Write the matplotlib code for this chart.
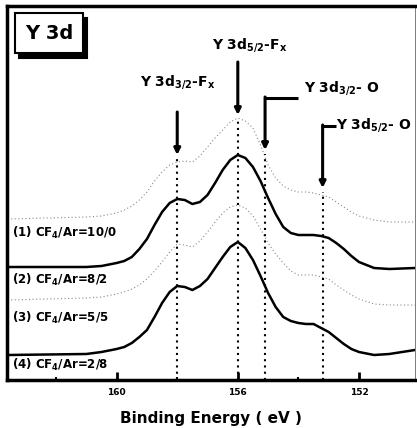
import numpy as np
import matplotlib
matplotlib.use("Agg")
import matplotlib.pyplot as plt
from matplotlib.patches import Rectangle

plt.rcParams['font.family'] = ['DejaVu Sans']
plt.rcParams['font.weight'] = 'bold'
plt.rcParams['mathtext.default'] = 'bf'

# binding energy (eV) sample points
energy = [163.6, 161.0, 160.5,
          160.0, 159.75, 159.5, 159.25, 159.0, 158.75, 158.5, 158.25, 158.0,
          157.75, 157.5, 157.25, 157.0, 156.75, 156.5, 156.25, 156.0,
          155.75, 155.5, 155.25, 155.0, 154.75, 154.5, 154.25, 154.0,
          153.75, 153.5, 153.25, 153.0, 152.75, 152.5, 152.25, 152.0,
          151.5, 151.0, 150.15]

# intensities (arb. units, already offset), top to bottom
cf4_10_0 = [161, 163, 164,
            167, 170, 174, 180, 188, 199, 208, 215, 218,
            219, 218, 224, 233, 242, 250, 258, 262,
            259, 252, 235, 215, 202, 194, 190, 188,
            188, 187, 185, 183, 178, 173, 168, 164,
            160, 158, 158]
cf4_8_2 = [113, 113, 114,
           117, 119, 123, 131, 141, 155, 168, 177, 181,
           180, 176, 178, 185, 197, 210, 220, 225,
           222, 213, 199, 182, 166, 153, 147, 145,
           145, 145, 144, 142, 137, 131, 124, 118,
           112, 111, 112]
cf4_5_5 = [80, 82, 83,
           86, 88, 91, 95, 101, 109, 118, 128, 136,
           135, 133, 139, 148, 158, 167, 173, 175,
           172, 164, 151, 137, 126, 117, 109, 105,
           105, 105, 103, 101, 95, 90, 85, 81,
           76, 75, 75]
cf4_2_8 = [25, 26, 28,
           31, 33, 37, 43, 50, 63, 77, 88, 94,
           93, 90, 94, 101, 112, 123, 133, 138,
           132, 120, 104, 87, 73, 63, 59, 57,
           56, 56, 52, 48, 42, 36, 31, 28,
           25, 26, 30]

labels = ['(1) CF$_4$/Ar=10/0', '(2) CF$_4$/Ar=8/2',
          '(3) CF$_4$/Ar=5/5', '(4) CF$_4$/Ar=2/8']
label_y = [147, 100, 62, 15]

# peak positions (eV) and tip heights of the arrows
peak_names = [r'Y 3d$_{3/2}$-F$_x$', r'Y 3d$_{5/2}$-F$_x$',
              r'Y 3d$_{3/2}$- O', r'Y 3d$_{5/2}$- O']
peak_e = [158.0, 156.0, 155.1, 153.2]
peak_tip = [225, 265, 230, 192]

fig = plt.figure(figsize=(4.17, 4.28), dpi=100)
ax = fig.add_axes([7/417, 48/428, 408/417, 374/428])

ax.plot(energy, cf4_10_0, color='#8a8a8a', lw=0.8, ls=(0, (1, 2.2)))
ax.plot(energy, cf4_8_2, color='black', lw=1.8)
ax.plot(energy, cf4_5_5, color='#8a8a8a', lw=0.8, ls=(0, (1, 2.2)))
ax.plot(energy, cf4_2_8, color='black', lw=1.8)

for e, t in zip(peak_e, peak_tip):
    ax.plot([e, e], [0, t - 4], color='black', lw=1.5, ls=(0, (1, 2)))

for lab, y in zip(labels, label_y):
    ax.text(163.45, y, lab, fontsize=8.5, fontweight='bold', va='center', ha='left')

arrow = dict(arrowstyle='-|>', color='black', lw=2.2, mutation_scale=9,
             shrinkA=0, shrinkB=0)
# straight arrows
ax.annotate('', xy=(peak_e[0], peak_tip[0]), xytext=(peak_e[0], 268), arrowprops=arrow)
ax.text(158.0, 298, peak_names[0], fontsize=10, ha='center', va='center')
ax.annotate('', xy=(peak_e[1], peak_tip[1]), xytext=(peak_e[1], 318), arrowprops=arrow)
ax.text(155.6, 335, peak_names[1], fontsize=10, ha='center', va='center')
# elbow arrows
ax.plot([peak_e[2], 154.0], [282, 282], color='black', lw=2.2, solid_capstyle='butt')
ax.annotate('', xy=(peak_e[2], peak_tip[2]), xytext=(peak_e[2], 283), arrowprops=arrow)
ax.text(153.8, 292, peak_names[2], fontsize=10, ha='left', va='center')
ax.plot([peak_e[3], 152.75], [254, 254], color='black', lw=2.2, solid_capstyle='butt')
ax.annotate('', xy=(peak_e[3], peak_tip[3]), xytext=(peak_e[3], 255), arrowprops=arrow)
ax.text(152.75, 255, peak_names[3], fontsize=10, ha='left', va='center')

# Y 3d box with drop shadow
ax.add_patch(Rectangle((0.030, 0.862), 0.167, 0.107, transform=ax.transAxes,
                       fc='black', ec='black', lw=1.5, zorder=4))
ax.add_patch(Rectangle((0.020, 0.874), 0.167, 0.107, transform=ax.transAxes,
                       fc='white', ec='black', lw=1.5, zorder=5))
ax.text(0.1035, 0.927, 'Y 3d', fontsize=14, va='center', ha='center',
        transform=ax.transAxes, zorder=6)

ax.set_xlim(163.62, 150.15)
ax.set_ylim(0, 374)
ax.set_yticks([])
ax.set_xticks([160, 156, 152])
ax.set_xticklabels(['160', '156', '152'], fontsize=6.5, fontweight='bold')
ax.set_xticks([162, 158, 154], minor=True)
ax.tick_params(axis='x', direction='in', length=6, width=2, pad=6)
ax.tick_params(axis='x', which='minor', direction='in', length=2, width=1.5)
for s in ['left', 'bottom', 'top']:
    ax.spines[s].set_linewidth(2.5)
ax.spines['right'].set_linewidth(0.6)
ax.spines['right'].set_color('#666666')

ax.set_xlabel('Binding Energy ( eV )', fontsize=11, fontweight='bold', labelpad=10)

fig.savefig('out.png', dpi=100)
